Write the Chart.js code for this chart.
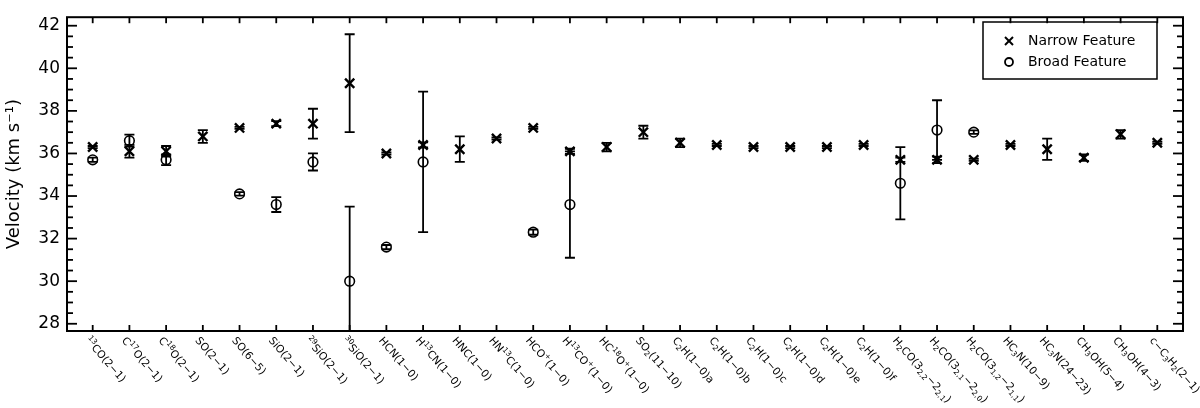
<!DOCTYPE html>
<html>
<head>
<meta charset="utf-8">
<script src="https://cdn.jsdelivr.net/npm/chart.js@4.4.0/dist/chart.umd.min.js"></script>
<style>
html,body{margin:0;padding:0;background:#fff;}
#wrap{width:1200px;height:408px;}
</style>
</head>
<body>
<div id="wrap"><canvas id="grafik"></canvas></div>
<script>

// =========================
// DATA
// =========================

// ^{..} = superscript, _{..} = subscript
let kategori = [
"^{13}CO(2−1)","C^{17}O(2−1)","C^{18}O(2−1)","SO(2−1)","SO(6−5)","SiO(2−1)",
"^{29}SiO(2−1)","^{30}SiO(2−1)","HCN(1−0)","H^{13}CN(1−0)","HNC(1−0)","HN^{13}C(1−0)",
"HCO^{+}(1−0)","H^{13}CO^{+}(1−0)","HC^{18}O^{+}(1−0)","SO_{2}(11−10)","C_{2}H(1−0)a","C_{2}H(1−0)b",
"C_{2}H(1−0)c","C_{2}H(1−0)d","C_{2}H(1−0)e","C_{2}H(1−0)f","H_{2}CO(3_{2,2}−2_{2,1})","H_{2}CO(3_{2,1}−2_{2,0})",
"H_{2}CO(3_{1,2}−2_{1,1})","HC_{3}N(10−9)","HC_{3}N(24−23)","CH_{3}OH(5−4)","CH_{3}OH(4−3)","c−C_{3}H_{2}(2−1)"
];

let narrowVel = [36.3,36.1,36.1,36.8,37.2,37.4,37.4,39.3,36.0,36.4,36.2,36.7,37.2,36.1,36.3,
37.0,36.5,36.4,36.3,36.3,36.3,36.4,35.7,35.7,35.7,36.4,36.2,35.8,36.9,36.5];
let narrowErr = [0.05,0.3,0.25,0.3,0.05,0.12,0.7,2.3,0.05,0.12,0.6,0.05,0.05,0.12,0.2,
0.3,0.2,0.05,0.05,0.05,0.05,0.05,0.1,0.15,0.05,0.05,0.5,0.15,0.2,0.05];

let broadVel = [35.7,36.6,35.7,null,34.1,33.6,35.6,30.0,31.6,35.6,null,null,32.3,33.6,null,
null,null,null,null,null,null,null,34.6,37.1,37.0,null,null,null,null,null];
let broadErr = [0.1,0.28,0.25,null,0.08,0.35,0.4,3.5,0.1,3.3,null,null,0.12,2.5,null,
null,null,null,null,null,null,null,1.7,1.4,0.08,null,null,null,null,null];

let yTicks = [28,30,32,34,36,38,40,42];

let FONT = '"DejaVu Sans", sans-serif';


// =========================
// ALAT GAMBAR
// =========================

function garis(ctx,x1,y1,x2,y2){
ctx.beginPath();
ctx.moveTo(x1,y1);
ctx.lineTo(x2,y2);
ctx.stroke();
}

// tulis label dengan sub/superscript kecil
function tulisLabel(ctx,teks,x,y){
let bagian = teks.split(/(\^\{[^}]*\}|_\{[^}]*\})/).filter(function(s){ return s!==""; });
let pos = x;
bagian.forEach(function(s){
let dy = 0, size = 10.6;
if(s[0]==="^"){ dy = -3.5; size = 7.5; s = s.slice(2,-1); }
else if(s[0]==="_"){ dy = 3; size = 7.5; s = s.slice(2,-1); }
ctx.font = size+"px "+FONT;
ctx.fillText(s,pos,y+dy);
pos += ctx.measureText(s).width;
});
}

function errorBar(chart,nilai,err){
let ctx = chart.ctx, a = chart.chartArea;
let sx = chart.scales.x, sy = chart.scales.y;
ctx.save();
ctx.beginPath();
ctx.rect(a.left,a.top,a.right-a.left,a.bottom-a.top);
ctx.clip();
ctx.strokeStyle = "#000";
ctx.lineWidth = 1.8;
nilai.forEach(function(v,i){
if(v===null) return;
let x = sx.getPixelForValue(i+1);
let y1 = sy.getPixelForValue(v+err[i]);
let y2 = sy.getPixelForValue(v-err[i]);
garis(ctx,x,y1,x,y2);
garis(ctx,x-5,y1,x+5,y1);
garis(ctx,x-5,y2,x+5,y2);
});
ctx.restore();
}

let bingkai = {
id:"bingkai",
afterDatasetsDraw(chart){
errorBar(chart,narrowVel,narrowErr);
errorBar(chart,broadVel,broadErr);
},
afterDraw(chart){
let ctx = chart.ctx, a = chart.chartArea;
let sx = chart.scales.x, sy = chart.scales.y;
ctx.save();
ctx.strokeStyle = "#000";
ctx.fillStyle = "#000";
ctx.lineWidth = 2;
ctx.strokeRect(a.left,a.top,a.right-a.left,a.bottom-a.top);

// tick x (atas dan bawah)
ctx.lineWidth = 1.8;
kategori.forEach(function(k,i){
let x = sx.getPixelForValue(i+1);
garis(ctx,x,a.bottom,x,a.bottom-6);
garis(ctx,x,a.top,x,a.top+6);
});

// tick y (kiri dan kanan)
for(let v=28; v<=42; v+=0.5){
let y = sy.getPixelForValue(v);
let len = (v%2===0) ? 10 : 6;
garis(ctx,a.left,y,a.left+len,y);
garis(ctx,a.right,y,a.right-len,y);
}

// label kategori miring
ctx.textAlign = "left";
ctx.textBaseline = "middle";
kategori.forEach(function(k,i){
let x = sx.getPixelForValue(i+1);
ctx.save();
ctx.translate(x-6,a.bottom+8);
ctx.rotate(49*Math.PI/180);
tulisLabel(ctx,k,0,0);
ctx.restore();
});

// legenda
ctx.lineWidth = 1.5;
ctx.strokeRect(983,22,174,57);
ctx.lineWidth = 2;
garis(ctx,1005,37,1013,45);
garis(ctx,1005,45,1013,37);
ctx.lineWidth = 1.8;
ctx.beginPath();
ctx.arc(1009,62,4,0,Math.PI*2);
ctx.stroke();
ctx.font = "14px "+FONT;
ctx.fillText("Narrow Feature",1028,41);
ctx.fillText("Broad Feature",1028,62);

ctx.restore();
}
};


// =========================
// GRAFIK
// =========================

let ctx1 = document.getElementById("grafik");

new Chart(ctx1,{
type:"scatter",
data:{
datasets:[
{
label:"Narrow Feature",
data:kategori.map(function(k,i){ return {x:i+1,y:narrowVel[i]}; }),
pointStyle:"crossRot",
pointRadius:6.5,
pointBorderWidth:2.4,
borderColor:"#000",
backgroundColor:"#000"
},
{
label:"Broad Feature",
data:kategori.map(function(k,i){ return {x:i+1,y:broadVel[i]}; }).filter(function(p){ return p.y!==null; }),
pointStyle:"circle",
pointRadius:4.8,
pointBorderWidth:1.6,
borderColor:"#000",
backgroundColor:"rgba(0,0,0,0)"
}
]
},
options:{
responsive:true,
maintainAspectRatio:false,
animation:false,
devicePixelRatio:1,
layout:{padding:{left:0,top:3,right:17,bottom:0}},
plugins:{legend:{display:false},tooltip:{enabled:false}},
scales:{
x:{
type:"linear",
min:0.3,
max:30.7,
afterFit:function(s){ s.height = 77; },
afterBuildTicks:function(s){ s.ticks = kategori.map(function(k,i){ return {value:i+1}; }); },
ticks:{display:false},
grid:{display:false,drawTicks:false},
border:{display:false}
},
y:{
type:"linear",
min:27.66,
max:42.4,
afterFit:function(s){ s.width = 67; },
afterBuildTicks:function(s){ s.ticks = yTicks.map(function(v){ return {value:v}; }); },
ticks:{color:"#000",padding:7,font:{family:FONT,size:17}},
grid:{display:false,drawTicks:false},
border:{display:false},
title:{display:true,text:"Velocity (km s⁻¹)",color:"#000",font:{family:FONT,size:18},padding:{top:4,bottom:0}}
}
}
},
plugins:[bingkai]
});

</script>
</body>
</html>
